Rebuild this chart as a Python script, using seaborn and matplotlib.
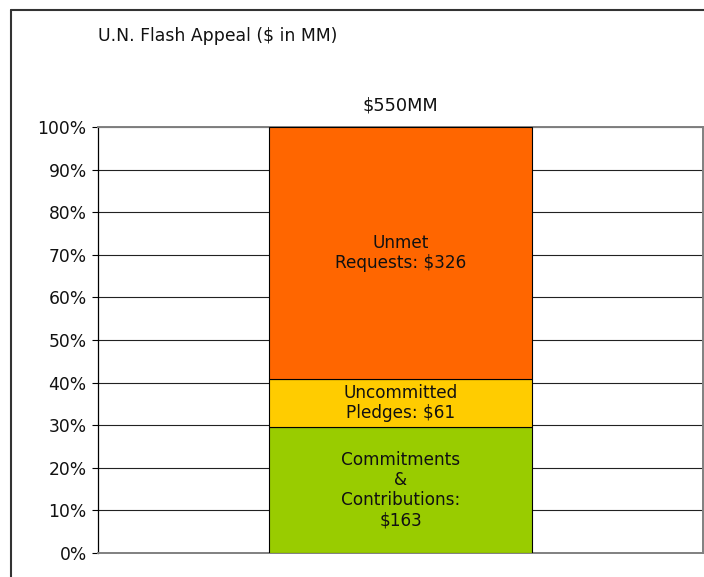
import pandas as pd
import matplotlib.pyplot as plt
import seaborn as sns
from matplotlib.lines import Line2D
from matplotlib.ticker import PercentFormatter

# $ in MM, bottom to top
segments = ['Commitments\n&\nContributions:\n$163', 'Uncommitted\nPledges: $61', 'Unmet\nRequests: $326']
amounts = [163, 61, 326]
colors = ['#99CC00', '#FFCC00', '#FF6600']
category = ['$550MM']

total = sum(amounts)
shares = [a / total * 100 for a in amounts]

sns.set_style('white')
plt.rcParams['font.family'] = ['DejaVu Sans']

fig = plt.figure(figsize=(7.04, 5.77), dpi=100)
ax = fig.add_axes([0.139, 0.0416, 0.86, 0.7384])

bottom = 0
for name, share, color in zip(segments, shares, colors):
    df = pd.DataFrame({'cat': category, 'pct': [share]})
    sns.barplot(data=df, x='cat', y='pct', bottom=bottom, color=color,
                saturation=1, width=0.8, edgecolor='black', linewidth=0.8,
                ax=ax, zorder=3)
    ax.text(0, bottom + share / 2, name, ha='center', va='center',
            fontsize=12.2, color='#111111', linespacing=1.15, zorder=4)
    bottom += share

ax.set_xlim(-0.92, 0.92)
ax.set_ylim(0, 100)
ax.set_yticks(range(0, 101, 10))
ax.yaxis.set_major_formatter(PercentFormatter(decimals=0))
ax.tick_params(axis='y', left=True, length=4, width=0.8, color='black',
               labelsize=12.3, labelcolor='#111111', pad=4)
ax.set_xticks([])
ax.set_xlabel('')
ax.set_ylabel('')

ax.grid(axis='y', color='#222222', linewidth=0.8, zorder=0)
ax.set_axisbelow(True)
for side in ['top', 'bottom', 'right']:
    ax.spines[side].set_color('#808080')
    ax.spines[side].set_linewidth(1.4)
ax.spines['left'].set_color('black')
ax.spines['left'].set_linewidth(0.9)

ax.text(0, 103, category[0], ha='center', va='bottom', fontsize=12.8, color='#111111')
fig.text(98 / 704, 1 - 36 / 577, 'U.N. Flash Appeal ($ in MM)', ha='left', va='center',
         fontsize=12.4, color='#111111')

# outer chart frame (cropped on right and bottom)
fig.add_artist(Line2D([11 / 704, 11 / 704], [0, 1 - 10 / 577], transform=fig.transFigure,
                      color='#333333', linewidth=1.5))
fig.add_artist(Line2D([11 / 704, 1], [1 - 10 / 577, 1 - 10 / 577], transform=fig.transFigure,
                      color='#333333', linewidth=1.5))

fig.savefig('out.png', dpi=100)
plt.close(fig)
